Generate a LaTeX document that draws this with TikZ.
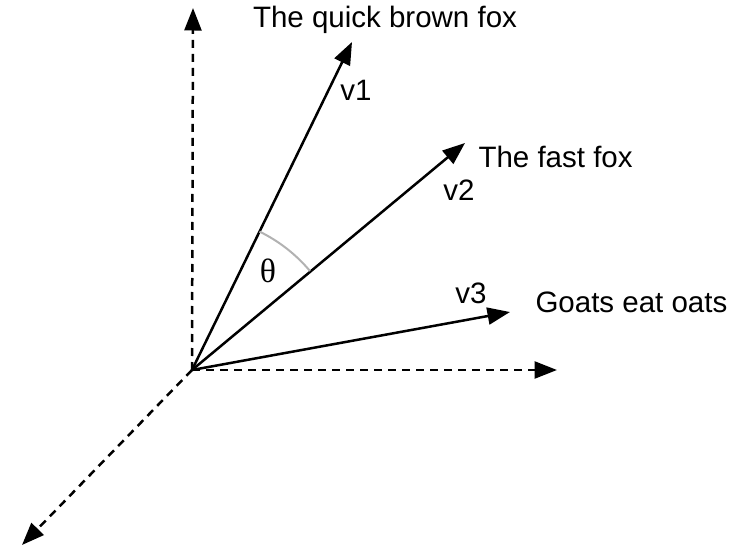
\documentclass[tikz,border=0pt]{standalone}
\usepackage{fontspec}
\setmainfont{Liberation Sans}
\newfontfamily\thetafont{Liberation Serif}
\usetikzlibrary{arrows.meta,calc}
\tikzset{
  vec/.style={-{Triangle[length=9pt,width=6.8pt]}, line width=1pt},
  axis/.style={-{Triangle[length=9pt,width=6.8pt]}, line width=1pt, dash pattern=on 3.2pt off 2.4pt},
  lbl/.style={font=\fontsize{11.8}{14}\selectfont, inner sep=0pt},
  anglearc/.style={draw=black!30, line width=0.8pt},
}

\begin{document}
\begin{tikzpicture}[x=0.4pt, y=0.4pt]
\useasboundingbox (0,0) rectangle (733,554);

% origin and axes
\coordinate (O) at (192,184);
\coordinate (ax) at (557,184);
\coordinate (ay) at (193,546);
\coordinate (az) at (22,9);
\draw[axis] (O) -- (ax);
\draw[axis] (O) -- (ay);
\draw[axis] (O) -- (az);

% vectors
\coordinate (v1) at (352,512);
\coordinate (v2) at (465,411);
\coordinate (v3) at (510,242);
\draw[vec] (O) -- (v1);
\draw[vec] (O) -- (v2);
\draw[vec] (O) -- (v3);

% angle between v1 and v2
\draw[anglearc] (O) ++(64:154) arc[start angle=64, end angle=40, radius=61.6pt];
\node[lbl, font=\fontsize{13.5}{16}\selectfont] (theta) at (268,283) {\thetafont θ};

% labels
\node[lbl] (l1) at (356,464) {v1};
\node[lbl] (l2) at (459,364) {v2};
\node[lbl] (l3) at (471,261) {v3};
\node[lbl] (s1) at (385,534) {The quick brown fox};
\node[lbl, anchor=west] (s2) at (478,397) {The fast fox};
\node[lbl, anchor=west] (s3) at (535,252) {Goats eat oats};

\end{tikzpicture}
\end{document}
